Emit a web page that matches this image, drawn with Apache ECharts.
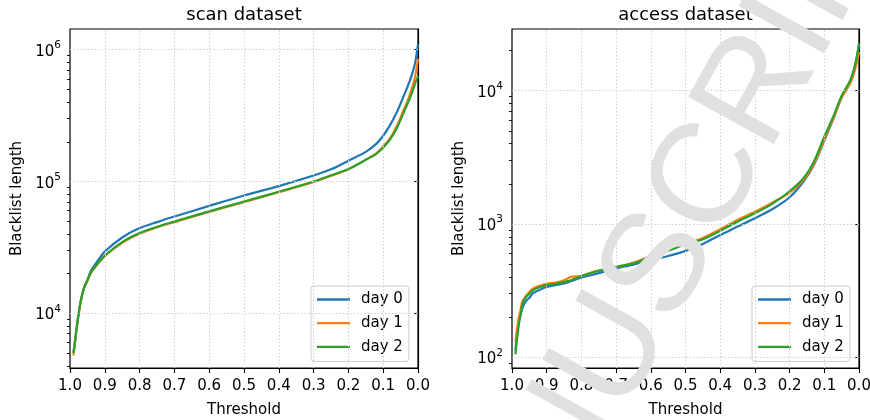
<!DOCTYPE html>
<html>
<head>
<meta charset="utf-8">
<script src="https://cdn.jsdelivr.net/npm/echarts@6/dist/echarts.min.js"></script>
<style>
html,body{margin:0;padding:0;background:#fff;}
#chart{width:870px;height:420px;}
</style>
</head>
<body>
<div id="chart"></div>
<script>
// ---------------- data ----------------
const seriesNames = ['day 0', 'day 1', 'day 2'];
const titles = ['scan dataset', 'access dataset'];
const xTicks = [1.0, 0.9, 0.8, 0.7, 0.6, 0.5, 0.4, 0.3, 0.2, 0.1, 0.0];
const xTickLabels = ['1.0','0.9','0.8','0.7','0.6','0.5','0.4','0.3','0.2','0.1','0.0'];

const tScan = [0.99, 0.985, 0.98, 0.97, 0.96, 0.95, 0.94, 0.92, 0.9, 0.85, 0.8, 0.75, 0.7, 0.6, 0.5, 0.4, 0.3, 0.25, 0.2, 0.15, 0.12, 0.1, 0.08, 0.06, 0.04, 0.03, 0.02, 0.01, 0.005, 0.0];
const scanDay0 = [5000, 6300, 8100, 12100, 15600, 17900, 20900, 25100, 29400, 37600, 44300, 49200, 54200, 65300, 78300, 92300, 110900, 123600, 143600, 167900, 192800, 222300, 269000, 339000, 452000, 525000, 617000, 759000, 891000, 1096000];
const scanDay1 = [4800, 6200, 8000, 11900, 15400, 17600, 20200, 23700, 27200, 34300, 40200, 44900, 49200, 58800, 69800, 82800, 99200, 110500, 123800, 146500, 163500, 184000, 213000, 266000, 355000, 410000, 485000, 600000, 700000, 851000];
const scanDay2 = [5000, 6300, 8100, 12000, 15500, 17800, 20400, 23900, 27400, 34700, 40600, 45300, 49700, 59300, 70500, 83600, 100000, 111200, 124200, 146200, 162200, 181100, 208900, 257000, 338800, 389000, 451900, 537000, 582000, 631000];

const tAccess = [0.99, 0.985, 0.98, 0.975, 0.97, 0.96, 0.95, 0.94, 0.92, 0.9, 0.875, 0.85, 0.83, 0.8, 0.76, 0.7, 0.65, 0.6, 0.55, 0.5, 0.45, 0.4, 0.35, 0.3, 0.25, 0.2, 0.16, 0.13, 0.1, 0.075, 0.05, 0.025, 0.01, 0.0];
const accessDay0 = [112, 151, 186, 209, 234, 263, 279, 301, 320, 337, 347, 357, 372, 396, 420, 463, 495, 537, 575, 628, 708, 826, 955, 1104, 1288, 1585, 2080, 2773, 4217, 6026, 8870, 11750, 15850, 22130];
const accessDay1 = [130, 166, 200, 229, 263, 288, 309, 327, 344, 357, 363, 378, 401, 406, 442, 473, 513, 575, 638, 711, 785, 912, 1072, 1236, 1445, 1718, 2138, 2818, 4315, 6095, 8870, 11350, 14790, 19500];
const accessDay2 = [105, 141, 178, 209, 251, 282, 299, 318, 335, 347, 355, 367, 378, 406, 438, 476, 507, 569, 631, 700, 767, 887, 1040, 1202, 1413, 1758, 2203, 2931, 4519, 6310, 9162, 12020, 16220, 22650];

const scanYTicks = [1e4, 1e5, 1e6];
const accessYTicks = [1e2, 1e3, 1e4];
const scanYRange = [3846, 1435000];
const accessYRange = [83, 29000];

const colors = ['#1f77b4', '#ff7f0e', '#2ca02c'];
const watermarkText = 'MANUSCRIPT';

// ---------------- helpers ----------------
const FONT = 'DejaVu Sans';
function minorTicks(range) {
  const out = [];
  for (let e = -1; e <= 8; e++) {
    for (let m = 2; m <= 9; m++) {
      const v = m * Math.pow(10, e);
      if (v >= range[0] && v <= range[1]) out.push(v);
    }
  }
  return out;
}
const grids = [
  {left: 70, top: 29, width: 348, height: 339},
  {left: 512, top: 29, width: 347, height: 339}
];
const gridLineStyle = {color: '#d0d0d0', width: 1, type: [1.5, 2]};

function xAxis(i) {
  return {
    type: 'value', gridIndex: i, min: 0, max: 1, interval: 0.1, inverse: true,
    axisLine: {show: true, lineStyle: {color: '#000', width: 1.2}},
    axisTick: {show: true, length: 5, lineStyle: {color: '#000', width: 1.1}},
    axisLabel: {color: '#000', fontSize: 15, fontFamily: FONT, margin: 11,
      formatter: v => xTickLabels[Math.round((1 - v) * 10)]},
    splitLine: {show: false},
    name: 'Threshold', nameLocation: 'middle', nameGap: 35,
    nameTextStyle: {color: '#000', fontSize: 15, fontFamily: FONT}
  };
}
function yAxisMain(i, range, ticks) {
  return {
    type: 'log', gridIndex: i, logBase: 10, min: range[0], max: range[1], position: 'left',
    axisLine: {show: true, lineStyle: {color: '#000', width: 1.2}},
    axisTick: {show: true, length: 5, customValues: ticks, lineStyle: {color: '#000', width: 1.1}},
    axisLabel: {
      customValues: ticks, margin: 9, color: '#000',
      formatter: v => '{b|10}{s|' + Math.round(Math.log10(v)) + '}',
      rich: {
        b: {fontSize: 15, fontFamily: FONT, color: '#000', padding: [4.5, 0, 0, 0]},
        s: {fontSize: 10.5, fontFamily: FONT, color: '#000', verticalAlign: 'top'}
      }
    },
    splitLine: {show: false},
    minorTick: {show: false},
    minorSplitLine: {show: false},
    name: 'Blacklist length', nameLocation: 'middle', nameGap: 45,
    nameTextStyle: {color: '#000', fontSize: 15, fontFamily: FONT}
  };
}
function yAxisMinor(i, range) {
  return {
    type: 'log', gridIndex: i, logBase: 10, min: range[0], max: range[1], position: 'left',
    axisLine: {show: false},
    axisTick: {show: true, length: 3, customValues: minorTicks(range), lineStyle: {color: '#000', width: 0.9}},
    axisLabel: {show: false},
    splitLine: {show: false},
    minorSplitLine: {show: false}
  };
}
function gridSeries(gridI, yTicks) {
  const lines = [];
  xTicks.forEach(v => { if (v > 0 && v < 1) lines.push({xAxis: v}); });
  yTicks.forEach(v => lines.push({yAxis: v}));
  return {
    name: 'grid' + gridI, type: 'line', xAxisIndex: gridI, yAxisIndex: gridI * 2,
    data: [], z: 1, silent: true, showSymbol: false,
    markLine: {silent: true, symbol: ['none', 'none'], label: {show: false},
      lineStyle: gridLineStyle, emphasis: {disabled: true}, animation: false, data: lines}
  };
}
function makeSeries(gridI, ts, arrays) {
  return arrays.map((arr, k) => ({
    name: seriesNames[k], type: 'line',
    xAxisIndex: gridI, yAxisIndex: gridI * 2,
    data: ts.map((t, j) => [t, arr[j]]),
    showSymbol: false, symbol: 'none',
    smooth: 0.3,
    lineStyle: {color: colors[k], width: 2.2},
    itemStyle: {color: colors[k]},
    z: 2 + k
  }));
}
function legend(left) {
  return {
    orient: 'vertical', left: left, top: 286,
    data: seriesNames, icon: 'rect', itemWidth: 33, itemHeight: 2.3, itemGap: 8.7,
    padding: [6, 6, 7, 6],
    backgroundColor: 'rgba(255,255,255,0.8)', borderColor: '#cccccc', borderWidth: 1, borderRadius: 3,
    textStyle: {color: '#000', fontSize: 15, fontFamily: FONT, padding: [0, 0, 0, 6]},
    selectedMode: false
  };
}

const chart = echarts.init(document.getElementById('chart'), null, {renderer: 'canvas'});
chart.setOption({
  animation: false,
  backgroundColor: '#fff',
  textStyle: {fontFamily: FONT},
  title: [
    {text: titles[0], left: 244, top: 6, textAlign: 'center', padding: 0,
      textStyle: {fontSize: 18, fontWeight: 'normal', color: '#000', fontFamily: FONT}},
    {text: titles[1], left: 685.5, top: 6, textAlign: 'center', padding: 0,
      textStyle: {fontSize: 18, fontWeight: 'normal', color: '#000', fontFamily: FONT}}
  ],
  grid: grids.map(g => Object.assign({show: true, borderColor: '#000', borderWidth: 1.2,
    backgroundColor: 'transparent', containLabel: false, outerBoundsMode: 'none'}, g)),
  xAxis: [xAxis(0), xAxis(1)],
  yAxis: [yAxisMain(0, scanYRange, scanYTicks), yAxisMinor(0, scanYRange),
          yAxisMain(1, accessYRange, accessYTicks), yAxisMinor(1, accessYRange)],
  legend: [legend(311), legend(752)],
  series: [].concat(
    [gridSeries(0, scanYTicks)],
    makeSeries(0, tScan, [scanDay0, scanDay1, scanDay2]),
    [gridSeries(1, accessYTicks)],
    makeSeries(1, tAccess, [accessDay0, accessDay1, accessDay2])
  ),
  graphic: [{
    type: 'text', x: 663, y: 263, rotation: 61 * Math.PI / 180, z: 100, silent: true,
    style: {text: watermarkText, fontSize: 142, fontFamily: 'Liberation Sans', fill: '#e0e0e0',
      align: 'center', verticalAlign: 'middle'}
  }]
});
</script>
</body>
</html>
